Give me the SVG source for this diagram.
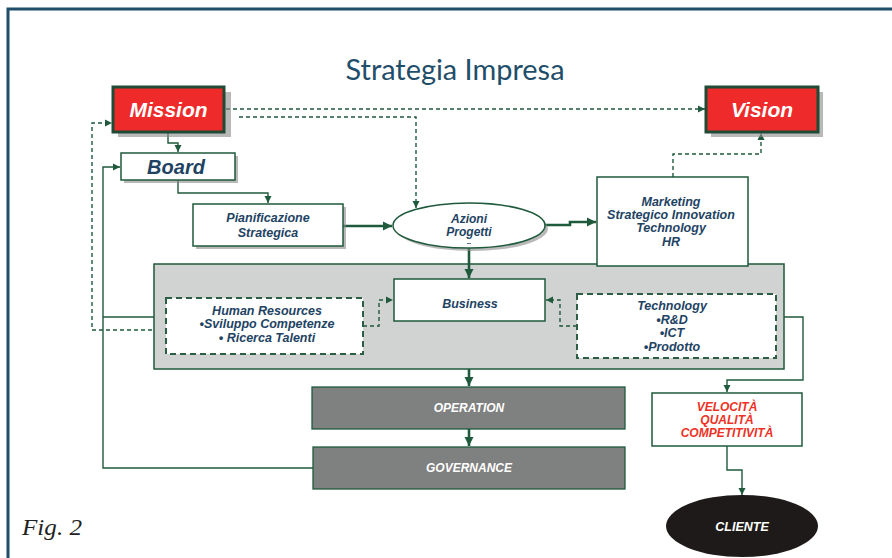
<svg xmlns="http://www.w3.org/2000/svg" width="892" height="558" viewBox="0 0 892 558">
<defs>
<marker id="ah" markerUnits="userSpaceOnUse" markerWidth="8" markerHeight="8" refX="7" refY="4" orient="auto"><path d="M0,0.5 L7,4 L0,7.5 z" fill="#1f5a3c"/></marker>
<marker id="ahb" markerUnits="userSpaceOnUse" markerWidth="10" markerHeight="10" refX="9" refY="5" orient="auto"><path d="M0,0.5 L9,5 L0,9.5 z" fill="#1f5a3c"/></marker>
<style>
.lbl{font-family:"Liberation Sans",Arial,sans-serif;font-weight:bold;font-style:italic;fill:#1e4363;text-anchor:middle}
.wh{fill:#ffffff}
.red{fill:#ee3124}
.box{fill:#ffffff;stroke:#1f5a3c;stroke-width:1.5}
.dbox{fill:#ffffff;stroke:#2b5e45;stroke-width:2;stroke-dasharray:6 4}
.sh{fill:#8a8a8a;opacity:0.6}
.c{fill:none;stroke:#1f5a3c;stroke-width:1.4}
.cb{fill:none;stroke:#1f5a3c;stroke-width:2.6}
.cd{fill:none;stroke:#1f5a3c;stroke-width:1.4;stroke-dasharray:4 3}
</style>
</defs>
<rect width="892" height="558" fill="#ffffff"/>
<path d="M8,558 V9 H892" fill="none" stroke="#1f4e6a" stroke-width="3"/>
<text x="455" y="80" text-anchor="middle" font-family="Lato,'Open Sans',sans-serif" font-size="28" fill="#1f4e6a" textLength="219" lengthAdjust="spacingAndGlyphs">Strategia Impresa</text>
<text x="22" y="535" font-family="'Liberation Serif',serif" font-style="italic" font-size="24" fill="#222222" textLength="60" lengthAdjust="spacingAndGlyphs">Fig. 2</text>

<g id="panel">
<rect x="154" y="264" width="630" height="105" fill="#d1d3d2" stroke="#1f5a3c" stroke-width="1.5"/>
</g>

<g id="connectors">
<path class="c" d="M168,132 V143 H178 V152" marker-end="url(#ah)"/>
<path class="c" d="M178,180 V193 H268 V203" marker-end="url(#ah)"/>
<path class="cb" d="M343,226 H392" marker-end="url(#ahb)"/>
<path class="cd" d="M226,109 H705" marker-end="url(#ah)"/>
<path class="cd" d="M239,117 H416 V208" marker-end="url(#ah)"/>
<path class="cb" d="M545,225 H570 V222 H596" marker-end="url(#ahb)"/>
<path class="cd" d="M673,177 V154 H761 V133" marker-end="url(#ah)"/>
<path class="cb" d="M469,248 V278" marker-end="url(#ahb)"/>
<path class="cd" d="M363,326 H379 V300 H393" marker-end="url(#ah)"/>
<path class="cd" d="M577,326 H560 V300 H546" marker-end="url(#ah)"/>
<path class="c" d="M784,317 H803 V380 H727 V392" marker-end="url(#ah)"/>
<path class="cb" d="M469,369 V386" marker-end="url(#ahb)"/>
<path class="cb" d="M469,429 V446" marker-end="url(#ahb)"/>
<path class="c" d="M313,468 H103 V167 H120" marker-end="url(#ah)"/>
<path class="c" d="M154,317 H103"/>
<path class="cd" d="M152,330 H92 V123 H112" marker-end="url(#ah)"/>
<path class="c" d="M727,446 V470 H742 V495" marker-end="url(#ah)"/>
</g>

<g id="mission">
<rect x="118" y="92" width="113" height="45" class="sh"/>
<rect x="113" y="87" width="111" height="45" fill="#ee2a2a" stroke="#1f4a35" stroke-width="3"/>
<text x="168.5" y="117" class="lbl wh" font-size="21">Mission</text>
</g>
<g id="vision">
<rect x="711" y="92" width="112" height="45" class="sh"/>
<rect x="706" y="87" width="112" height="45" fill="#ee2a2a" stroke="#1f4a35" stroke-width="3"/>
<text x="762" y="117" class="lbl wh" font-size="21">Vision</text>
</g>
<g id="board">
<rect x="124" y="156" width="114" height="27" class="sh"/>
<rect x="121" y="153" width="114" height="27" class="box"/>
<text x="176" y="174" class="lbl" font-size="20">Board</text>
</g>
<g id="pianificazione">
<rect x="196" y="207" width="150" height="42" class="sh"/>
<rect x="193" y="204" width="150" height="42" class="box"/>
<text x="268" y="222" class="lbl" font-size="12.5">Pianificazione</text>
<text x="268" y="237" class="lbl" font-size="12.5">Strategica</text>
</g>
<g id="azioni">
<ellipse cx="472" cy="228.5" rx="76" ry="22.5" class="sh"/>
<ellipse cx="469" cy="225.5" rx="76" ry="22.5" class="box"/>
<text x="469" y="223" class="lbl" font-size="12">Azioni</text>
<text x="469" y="236" class="lbl" font-size="12">Progetti</text>
<rect x="467" y="243" width="4" height="1" fill="#6070a0"/>
</g>
<g id="marketing">
<rect x="597" y="177" width="151" height="89" class="box"/>
<text x="671" y="206" class="lbl" font-size="12.5">Marketing</text>
<text x="671" y="219" class="lbl" font-size="12.5">Strategico Innovation</text>
<text x="671" y="232" class="lbl" font-size="12.5">Technology</text>
<text x="671" y="246" class="lbl" font-size="12.5">HR</text>
</g>
<g id="business">
<rect x="394" y="279" width="151" height="42" class="box"/>
<text x="470" y="308" class="lbl" font-size="12.5">Business</text>
</g>
<g id="human-resources">
<rect x="166" y="298" width="197" height="56" class="dbox"/>
<text x="267" y="315" class="lbl" font-size="12.5">Human Resources</text>
<text x="267" y="328" class="lbl" font-size="12.5">•Sviluppo Competenze</text>
<text x="267" y="342" class="lbl" font-size="12.5">• Ricerca Talenti</text>
</g>
<g id="technology">
<rect x="577" y="294" width="199" height="64" class="dbox"/>
<text x="672" y="310" class="lbl" font-size="12.5">Technology</text>
<text x="672" y="324" class="lbl" font-size="12.5">•R&amp;D</text>
<text x="672" y="337" class="lbl" font-size="12.5">•ICT</text>
<text x="672" y="351" class="lbl" font-size="12.5">•Prodotto</text>
</g>
<g id="operation">
<rect x="312" y="387" width="313" height="42" fill="#7f8080" stroke="#1f5a3c" stroke-width="1.3"/>
<text x="469" y="412" class="lbl wh" font-size="12">OPERATION</text>
</g>
<g id="governance">
<rect x="313" y="447" width="312" height="42" fill="#7f8080" stroke="#1f5a3c" stroke-width="1.3"/>
<text x="469" y="472" class="lbl wh" font-size="12">GOVERNANCE</text>
</g>
<g id="velocita">
<rect x="652" y="393" width="150" height="53" class="box"/>
<text x="727" y="411" class="lbl red" font-size="12">VELOCITÀ</text>
<text x="727" y="424" class="lbl red" font-size="12">QUALITÀ</text>
<text x="727" y="437" class="lbl red" font-size="12">COMPETITIVITÀ</text>
</g>
<g id="cliente">
<ellipse cx="742" cy="526" rx="76" ry="31" fill="#1f1a1a"/>
<text x="742" y="531" class="lbl wh" font-size="12.5">CLIENTE</text>
</g>
</svg>
